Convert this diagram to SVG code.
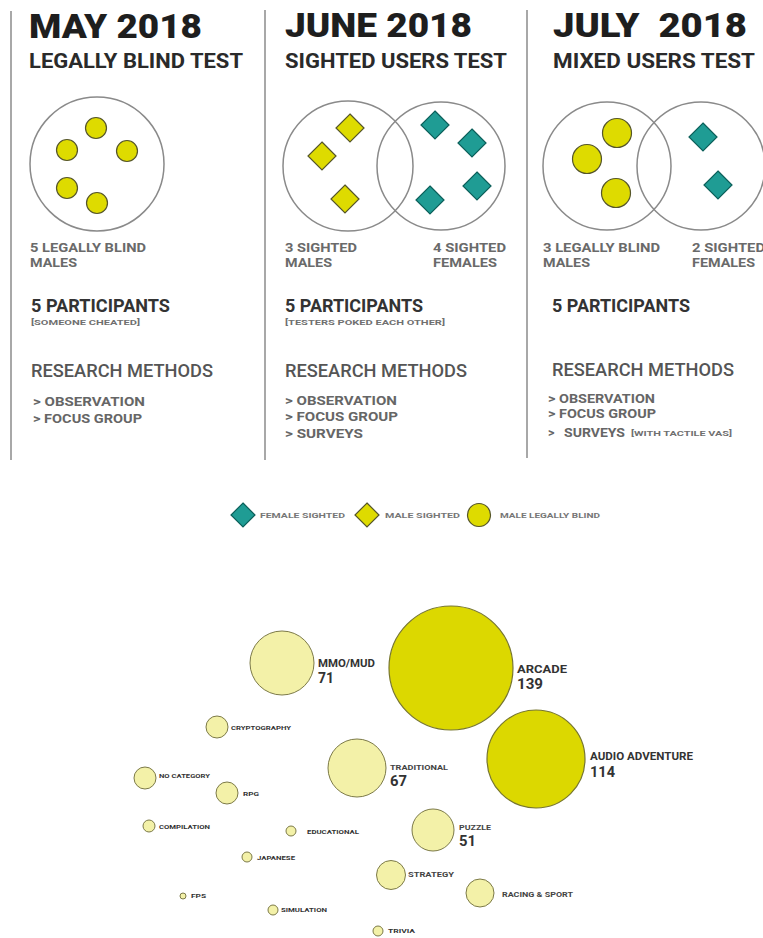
<svg xmlns="http://www.w3.org/2000/svg" width="763" height="938" viewBox="0 0 763 938">
<defs>
<style>
.t{font-family:Roboto,"Liberation Sans",sans-serif;}
.title{font-size:34px;font-weight:900;fill:#1e1e1e;}
.sub{font-size:20px;font-weight:700;fill:#2a2a2a;}
.lab{font-size:12.5px;font-weight:700;fill:#6a6a6a;}
.part{font-size:19px;font-weight:700;fill:#333;}
.note{font-size:8px;font-weight:700;fill:#707070;}
.rm{font-size:17.5px;font-weight:500;fill:#555;}
.item{font-size:12.5px;font-weight:700;fill:#666;}
.leg{font-size:7px;font-weight:700;fill:#777;}
.div{stroke:#a8a8a8;stroke-width:2;}
.venn{fill:none;stroke:#8a8a8a;stroke-width:1.5;}
.dot{fill:#dedb00;stroke:#55552a;stroke-width:1.2;}
.ydia{fill:#dedb00;stroke:#55552a;stroke-width:1.2;}
.tdia{fill:#1f9c94;stroke:#0c5f5a;stroke-width:1.2;}
.big{fill:#dcd800;stroke:#77762f;stroke-width:1.2;}
.sm{fill:#f3f1a8;stroke:#7c7a48;stroke-width:1;}
.bl{font-size:10px;font-weight:700;fill:#333;}
.bn{font-size:15px;font-weight:700;fill:#333;}
.sl{font-size:6px;font-weight:700;fill:#333;}
.ml{font-size:7px;font-weight:700;fill:#444;}
</style>
<polygon id="dia" points="0,-14 14,0 0,14 -14,0"/>
</defs>
<rect width="763" height="938" fill="#ffffff"/>

<g id="dividers">
<line class="div" x1="11" y1="11" x2="11" y2="460"/>
<line class="div" x1="265" y1="10" x2="265" y2="460"/>
<line class="div" x1="527" y1="10" x2="527" y2="458"/>
</g>

<g id="may-2018" class="t">
<text class="title" x="29" y="38" textLength="173" lengthAdjust="spacingAndGlyphs">MAY 2018</text>
<text class="sub" x="29" y="68" textLength="214" lengthAdjust="spacingAndGlyphs">LEGALLY BLIND TEST</text>
<circle class="venn" cx="97" cy="164" r="67"/>
<circle class="dot" cx="96" cy="128" r="10.5"/>
<circle class="dot" cx="67" cy="150" r="10.5"/>
<circle class="dot" cx="127" cy="151" r="10.5"/>
<circle class="dot" cx="67" cy="188" r="10.5"/>
<circle class="dot" cx="97" cy="203" r="10.5"/>
<text class="lab" x="30" y="252" textLength="116" lengthAdjust="spacingAndGlyphs">5 LEGALLY BLIND</text>
<text class="lab" x="30" y="267" textLength="47" lengthAdjust="spacingAndGlyphs">MALES</text>
<text class="part" x="31" y="312" textLength="139" lengthAdjust="spacingAndGlyphs">5 PARTICIPANTS</text>
<text class="note" x="31" y="325" textLength="109" lengthAdjust="spacingAndGlyphs">[SOMEONE CHEATED]</text>
<text class="rm" x="31" y="377" textLength="182" lengthAdjust="spacingAndGlyphs">RESEARCH METHODS</text>
<text class="item" x="33" y="406" textLength="112" lengthAdjust="spacingAndGlyphs">&gt;  OBSERVATION</text>
<text class="item" x="33" y="423" textLength="109" lengthAdjust="spacingAndGlyphs">&gt; FOCUS GROUP</text>
</g>

<g id="june-2018" class="t">
<text class="title" x="285" y="37" textLength="187" lengthAdjust="spacingAndGlyphs">JUNE 2018</text>
<text class="sub" x="285" y="68" textLength="222" lengthAdjust="spacingAndGlyphs">SIGHTED USERS TEST</text>
<circle class="venn" cx="348" cy="166" r="65"/>
<circle class="venn" cx="441" cy="166" r="64"/>
<use href="#dia" class="ydia" x="350" y="128"/>
<use href="#dia" class="ydia" x="322" y="156"/>
<use href="#dia" class="ydia" x="345" y="199"/>
<use href="#dia" class="tdia" x="435" y="125"/>
<use href="#dia" class="tdia" x="472" y="143"/>
<use href="#dia" class="tdia" x="477" y="186"/>
<use href="#dia" class="tdia" x="430" y="200"/>
<text class="lab" x="285" y="252" textLength="72" lengthAdjust="spacingAndGlyphs">3 SIGHTED</text>
<text class="lab" x="285" y="267" textLength="47" lengthAdjust="spacingAndGlyphs">MALES</text>
<text class="lab" x="433" y="252" textLength="73" lengthAdjust="spacingAndGlyphs">4 SIGHTED</text>
<text class="lab" x="433" y="267" textLength="64" lengthAdjust="spacingAndGlyphs">FEMALES</text>
<text class="part" x="285" y="312" textLength="138" lengthAdjust="spacingAndGlyphs">5 PARTICIPANTS</text>
<text class="note" x="285" y="325" textLength="160" lengthAdjust="spacingAndGlyphs">[TESTERS POKED EACH OTHER]</text>
<text class="rm" x="285" y="377" textLength="182" lengthAdjust="spacingAndGlyphs">RESEARCH METHODS</text>
<text class="item" x="285" y="405" textLength="112" lengthAdjust="spacingAndGlyphs">&gt; OBSERVATION</text>
<text class="item" x="285" y="421" textLength="113" lengthAdjust="spacingAndGlyphs">&gt; FOCUS GROUP</text>
<text class="item" x="285" y="438" textLength="78" lengthAdjust="spacingAndGlyphs">&gt; SURVEYS</text>
</g>

<g id="july-2018" class="t">
<text class="title" x="553" y="37" textLength="194" lengthAdjust="spacingAndGlyphs" xml:space="preserve">JULY  2018</text>
<text class="sub" x="553" y="68" textLength="202" lengthAdjust="spacingAndGlyphs">MIXED USERS TEST</text>
<circle class="venn" cx="607" cy="166" r="64"/>
<circle class="venn" cx="701" cy="166" r="64"/>
<circle class="dot" cx="617" cy="133" r="14.5"/>
<circle class="dot" cx="587" cy="159" r="14.5"/>
<circle class="dot" cx="616" cy="193" r="14.5"/>
<use href="#dia" class="tdia" x="703" y="137"/>
<use href="#dia" class="tdia" x="718" y="185"/>
<text class="lab" x="543" y="252" textLength="117" lengthAdjust="spacingAndGlyphs">3 LEGALLY BLIND</text>
<text class="lab" x="543" y="267" textLength="47" lengthAdjust="spacingAndGlyphs">MALES</text>
<text class="lab" x="692" y="252" textLength="73" lengthAdjust="spacingAndGlyphs">2 SIGHTED</text>
<text class="lab" x="692" y="267" textLength="63" lengthAdjust="spacingAndGlyphs">FEMALES</text>
<text class="part" x="552" y="312" textLength="138" lengthAdjust="spacingAndGlyphs">5 PARTICIPANTS</text>
<text class="rm" x="552" y="376" textLength="182" lengthAdjust="spacingAndGlyphs">RESEARCH METHODS</text>
<text class="item" x="548" y="403" textLength="107" lengthAdjust="spacingAndGlyphs">&gt; OBSERVATION</text>
<text class="item" x="548" y="418" textLength="108" lengthAdjust="spacingAndGlyphs">&gt; FOCUS GROUP</text>
<text class="item" x="548" y="437">&gt;</text>
<text class="item" x="564" y="437" textLength="61" lengthAdjust="spacingAndGlyphs">SURVEYS</text>
<text class="note" x="631" y="436" font-size="7" textLength="101" lengthAdjust="spacingAndGlyphs">[WITH TACTILE VAS]</text>
</g>

<g id="legend" class="t">
<polygon class="tdia" points="243,503 255,515 243,527 231,515"/>
<text class="leg" x="260" y="518" textLength="85" lengthAdjust="spacingAndGlyphs">FEMALE SIGHTED</text>
<polygon class="ydia" points="367,503 379,515 367,527 355,515"/>
<text class="leg" x="385" y="518" textLength="75" lengthAdjust="spacingAndGlyphs">MALE SIGHTED</text>
<circle class="dot" cx="479" cy="515" r="11.5"/>
<text class="leg" x="500" y="518" textLength="100" lengthAdjust="spacingAndGlyphs">MALE LEGALLY BLIND</text>
</g>

<g id="bubble-arcade" class="t">
<circle class="big" cx="451" cy="668" r="62"/>
<text class="bl" x="517" y="673" textLength="50" lengthAdjust="spacingAndGlyphs">ARCADE</text>
<text class="bn" x="517" y="689" textLength="26" lengthAdjust="spacingAndGlyphs">139</text>
</g>
<g id="bubble-mmo-mud" class="t">
<circle class="sm" cx="282" cy="663" r="32"/>
<text class="bl" x="318" y="667" textLength="57" lengthAdjust="spacingAndGlyphs">MMO/MUD</text>
<text class="bn" x="318" y="683" textLength="16" lengthAdjust="spacingAndGlyphs">71</text>
</g>
<g id="bubble-audio-adventure" class="t">
<circle class="big" cx="536" cy="759" r="49"/>
<text class="bl" x="590" y="760" textLength="103" lengthAdjust="spacingAndGlyphs">AUDIO ADVENTURE</text>
<text class="bn" x="590" y="777" textLength="25" lengthAdjust="spacingAndGlyphs">114</text>
</g>
<g id="bubble-traditional" class="t">
<circle class="sm" cx="357" cy="768" r="29"/>
<text class="ml" x="390" y="770" textLength="58" lengthAdjust="spacingAndGlyphs">TRADITIONAL</text>
<text class="bn" x="390" y="786" textLength="17" lengthAdjust="spacingAndGlyphs">67</text>
</g>
<g id="bubble-puzzle" class="t">
<circle class="sm" cx="433" cy="830" r="21"/>
<text class="ml" x="459" y="830" textLength="32" lengthAdjust="spacingAndGlyphs">PUZZLE</text>
<text class="bn" x="459" y="846" textLength="17" lengthAdjust="spacingAndGlyphs">51</text>
</g>
<g id="bubble-strategy" class="t">
<circle class="sm" cx="391" cy="875" r="14.5"/>
<text class="ml" x="408" y="877" textLength="46" lengthAdjust="spacingAndGlyphs">STRATEGY</text>
</g>
<g id="bubble-racing-sport" class="t">
<circle class="sm" cx="480" cy="893" r="14"/>
<text class="ml" x="502" y="897" textLength="71" lengthAdjust="spacingAndGlyphs">RACING &amp; SPORT</text>
</g>
<g id="bubble-trivia" class="t">
<circle class="sm" cx="378" cy="931" r="5"/>
<text class="sl" x="388" y="933" textLength="27" lengthAdjust="spacingAndGlyphs">TRIVIA</text>
</g>
<g id="bubble-cryptography" class="t">
<circle class="sm" cx="217" cy="727" r="11"/>
<text class="sl" x="231" y="730" textLength="60" lengthAdjust="spacingAndGlyphs">CRYPTOGRAPHY</text>
</g>
<g id="bubble-no-category" class="t">
<circle class="sm" cx="145" cy="778" r="11"/>
<text class="sl" x="159" y="778" textLength="51" lengthAdjust="spacingAndGlyphs">NO CATEGORY</text>
</g>
<g id="bubble-rpg" class="t">
<circle class="sm" cx="227" cy="793" r="11"/>
<text class="sl" x="243" y="796" textLength="16" lengthAdjust="spacingAndGlyphs">RPG</text>
</g>
<g id="bubble-compilation" class="t">
<circle class="sm" cx="149" cy="826" r="6"/>
<text class="sl" x="159" y="829" textLength="51" lengthAdjust="spacingAndGlyphs">COMPILATION</text>
</g>
<g id="bubble-educational" class="t">
<circle class="sm" cx="291" cy="831" r="5"/>
<text class="sl" x="307" y="834" textLength="52" lengthAdjust="spacingAndGlyphs">EDUCATIONAL</text>
</g>
<g id="bubble-japanese" class="t">
<circle class="sm" cx="247" cy="857" r="5"/>
<text class="sl" x="257" y="860" textLength="38" lengthAdjust="spacingAndGlyphs">JAPANESE</text>
</g>
<g id="bubble-fps" class="t">
<circle class="sm" cx="183" cy="896" r="3"/>
<text class="sl" x="191" y="898" textLength="15" lengthAdjust="spacingAndGlyphs">FPS</text>
</g>
<g id="bubble-simulation" class="t">
<circle class="sm" cx="273" cy="910" r="5"/>
<text class="sl" x="281" y="912" textLength="46" lengthAdjust="spacingAndGlyphs">SIMULATION</text>
</g>
</svg>
